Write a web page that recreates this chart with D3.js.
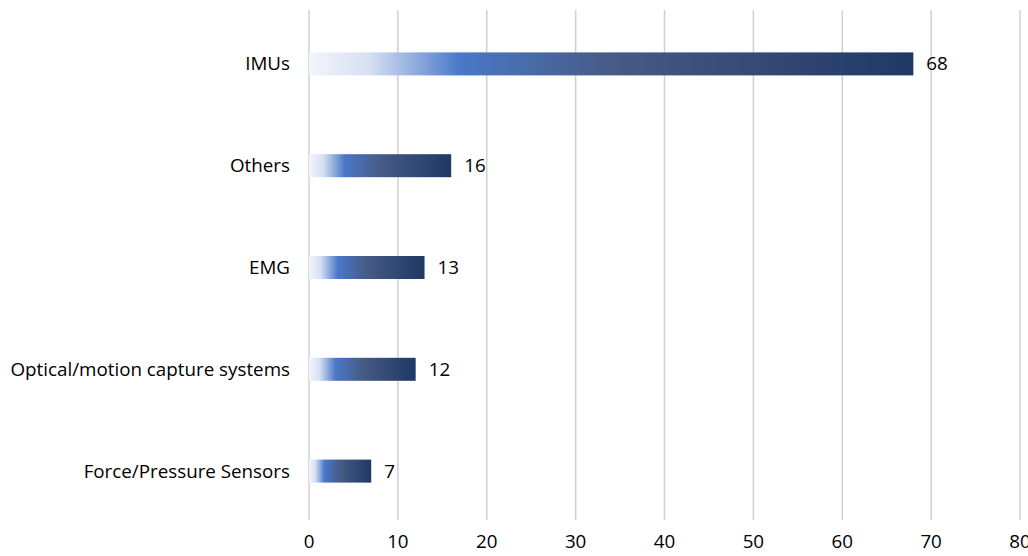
<!DOCTYPE html>
<html>
<head>
<meta charset="utf-8">
<script src="https://cdn.jsdelivr.net/npm/d3@7"></script>
<style>
  body { margin: 0; background: #fff; }
  text { font-family: "Open Sans", Lato, sans-serif; fill: #000; }
</style>
</head>
<body>
<div id="chart"></div>
<script>
// categories top to bottom
const categories = ["IMUs", "Others", "EMG", "Optical/motion capture systems", "Force/Pressure Sensors"];
const counts = [68, 16, 13, 12, 7];
const xTicks = [0, 10, 20, 30, 40, 50, 60, 70, 80];

const width = 1028, height = 556;
const margin = { top: 13, right: 8, bottom: 34, left: 309 };
const fontSize = "18.8px";

const svg = d3.select("#chart").append("svg")
  .attr("width", width)
  .attr("height", height);

const x = d3.scaleLinear().domain([0, 80]).range([margin.left, margin.left + 711]);
const y = d3.scaleBand().domain(categories).range([margin.top, margin.top + 509]).paddingInner(0.774).paddingOuter(0.387);

// gradient along each bar
const defs = svg.append("defs");
const grad = defs.append("linearGradient")
  .attr("id", "barGrad")
  .attr("x1", "0%").attr("x2", "100%").attr("y1", "0%").attr("y2", "0%");
[
  [0, "#f2f5fb"],
  [0.1, "#d6e0f2"],
  [0.25, "#4a78c8"],
  [0.5, "#465b85"],
  [1, "#1f3864"]
].forEach(([o, c]) => grad.append("stop").attr("offset", o).attr("stop-color", c));

// gridlines
svg.append("g")
  .selectAll("line")
  .data(xTicks)
  .enter()
  .append("line")
  .attr("x1", d => x(d)).attr("x2", d => x(d))
  .attr("y1", 10).attr("y2", 520)
  .attr("stroke", "#d0d0d0")
  .attr("stroke-width", 1.5);

// bars
svg.append("g")
  .selectAll("rect")
  .data(categories)
  .enter()
  .append("rect")
  .attr("x", x(0))
  .attr("y", d => y(d))
  .attr("width", (d, i) => x(counts[i]) - x(0))
  .attr("height", y.bandwidth())
  .attr("fill", "url(#barGrad)");

// value labels
svg.append("g")
  .selectAll("text")
  .data(categories)
  .enter()
  .append("text")
  .attr("x", (d, i) => x(counts[i]) + 13)
  .attr("y", d => y(d) + y.bandwidth() / 2)
  .attr("dy", "0.35em")
  .style("font-size", fontSize)
  .text((d, i) => counts[i]);

// category labels
svg.append("g")
  .selectAll("text")
  .data(categories)
  .enter()
  .append("text")
  .attr("x", 290)
  .attr("y", d => y(d) + y.bandwidth() / 2)
  .attr("dy", "0.35em")
  .attr("text-anchor", "end")
  .style("font-size", fontSize)
  .text(d => d);

// x tick labels
svg.append("g")
  .selectAll("text")
  .data(xTicks)
  .enter()
  .append("text")
  .attr("x", d => x(d))
  .attr("y", 541)
  .attr("dy", "0.35em")
  .attr("text-anchor", "middle")
  .style("font-size", fontSize)
  .text(d => d);
</script>
</body>
</html>
